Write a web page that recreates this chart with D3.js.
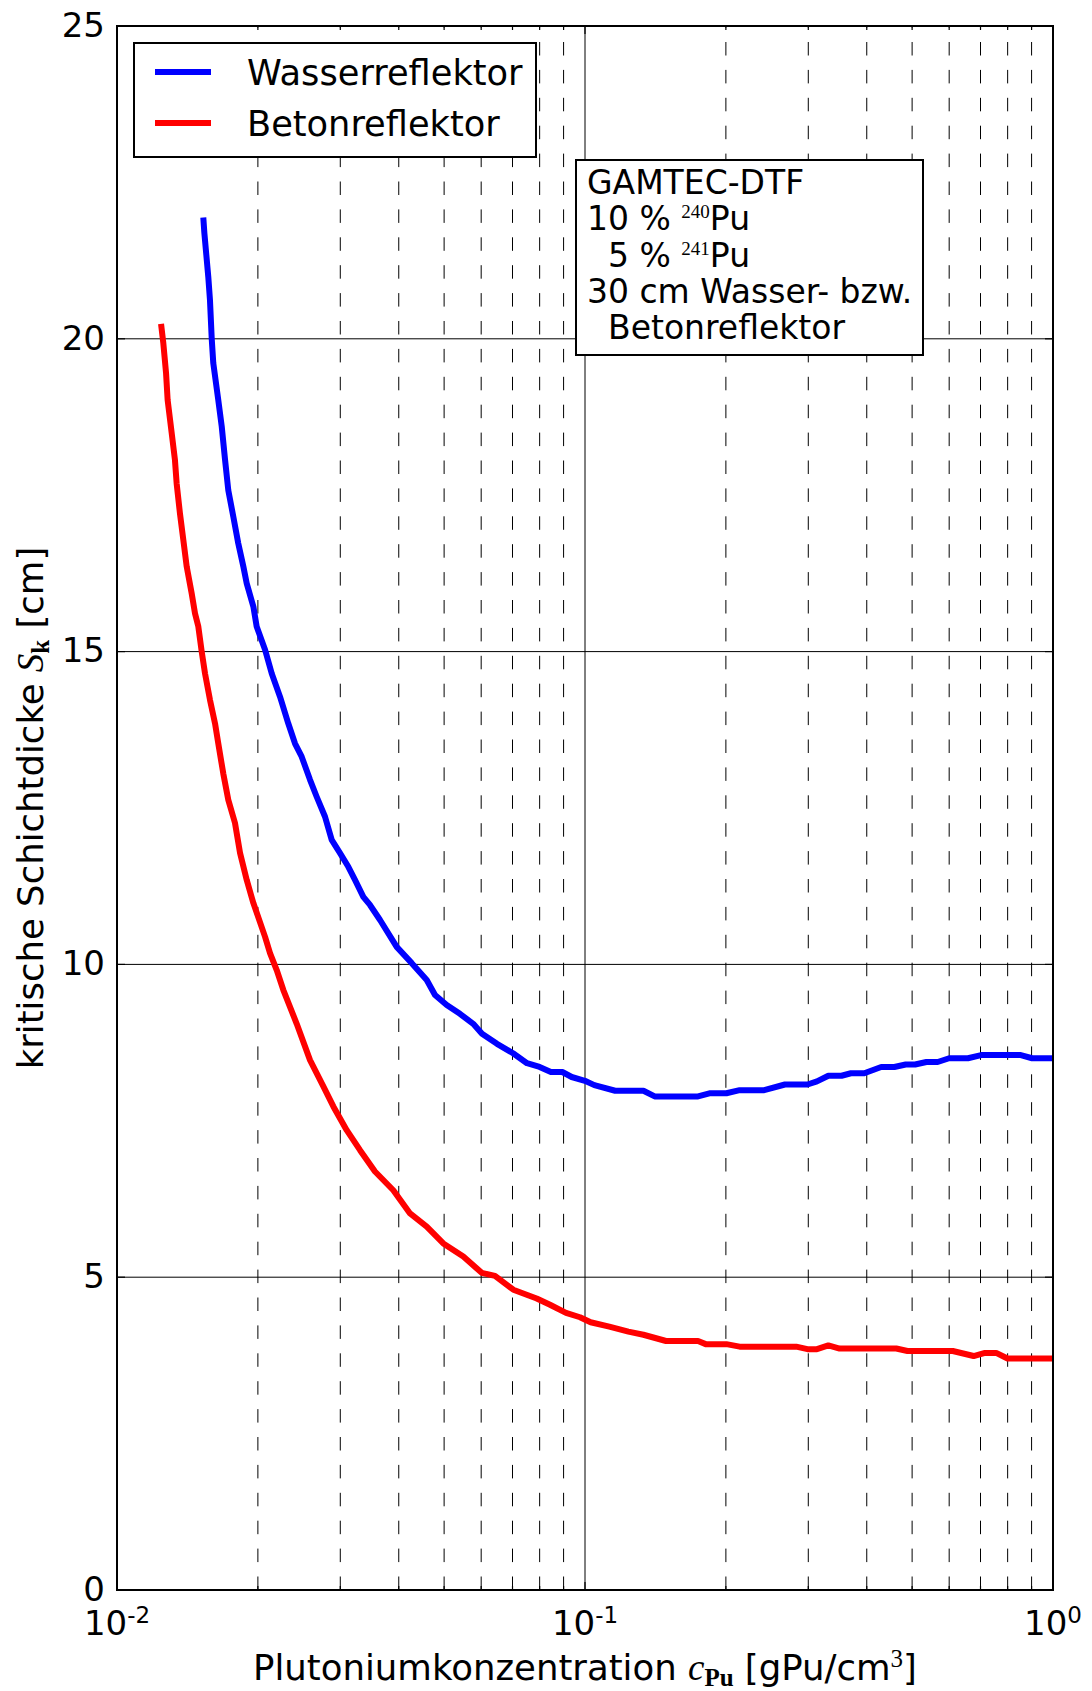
<!DOCTYPE html>
<html><head><meta charset="utf-8">
<script src="https://cdn.jsdelivr.net/npm/d3@7"></script>
<style>
body{margin:0;background:#fff}
svg{display:block}
text{font-family:"DejaVu Sans",sans-serif;fill:#000}
</style>
</head><body>
<svg id="chart" width="1092" height="1691"></svg>
<script>
// ---- data ----
const concWater = [0.01529,0.01537,0.01567,0.0158,0.01594,0.01606,0.01646,0.01674,0.01702,0.01729,0.01772,0.01816,0.01862,0.01893,0.01956,0.01988,0.02072,0.02141,0.0223,0.02323,0.02401,0.02481,0.02585,0.02671,0.02783,0.02876,0.02996,0.03121,0.03225,0.0336,0.03472,0.03648,0.03959,0.04264,0.0459,0.04781,0.05064,0.05405,0.0577,0.06025,0.06486,0.07019,0.07517,0.07998,0.08455,0.08944,0.09367,0.09995,0.1047,0.116,0.1333,0.1409,0.1744,0.1844,0.2005,0.214,0.2415,0.2674,0.2988,0.3131,0.3311,0.3533,0.37,0.3951,0.4294,0.4581,0.4845,0.5074,0.5364,0.5671,0.5998,0.658,0.7023,0.8536,0.9023,1.0];
const thickWater = [21.94,21.69,20.99,20.62,19.99,19.61,19.02,18.60,18.06,17.58,17.16,16.73,16.36,16.09,15.72,15.40,15.03,14.65,14.28,13.85,13.53,13.32,12.95,12.68,12.36,11.99,11.78,11.56,11.35,11.08,10.95,10.71,10.28,10.02,9.75,9.51,9.35,9.21,9.05,8.89,8.73,8.58,8.42,8.36,8.28,8.28,8.20,8.14,8.07,7.98,7.98,7.89,7.89,7.94,7.94,7.99,7.99,8.08,8.08,8.13,8.22,8.22,8.26,8.26,8.36,8.36,8.40,8.40,8.44,8.44,8.50,8.50,8.55,8.55,8.50,8.50];
const concBeton = [0.01242,0.01256,0.01273,0.01283,0.01309,0.0133,0.01341,0.01363,0.01386,0.01409,0.01444,0.01468,0.01492,0.01517,0.01542,0.0158,0.0162,0.01646,0.01687,0.01729,0.01787,0.01832,0.01893,0.01956,0.02072,0.02123,0.02194,0.02267,0.02421,0.02585,0.0276,0.02899,0.03096,0.03306,0.03558,0.03894,0.04228,0.0459,0.0498,0.05495,0.06016,0.06422,0.07029,0.07505,0.07885,0.08418,0.09109,0.09757,0.1028,0.1127,0.1238,0.1333,0.149,0.1744,0.1811,0.2005,0.214,0.2827,0.2988,0.3131,0.3311,0.3499,0.4624,0.4888,0.6107,0.6767,0.7155,0.7561,0.7994,1.0];
const thickBeton = [20.24,19.93,19.45,19.02,18.49,18.06,17.69,17.21,16.78,16.36,15.93,15.61,15.40,15.00,14.65,14.23,13.85,13.53,13.05,12.63,12.26,11.78,11.35,10.98,10.44,10.18,9.91,9.59,9.05,8.47,8.05,7.73,7.35,7.03,6.69,6.39,6.02,5.81,5.54,5.33,5.07,5.02,4.80,4.72,4.66,4.56,4.43,4.36,4.28,4.21,4.13,4.08,3.98,3.98,3.93,3.93,3.89,3.89,3.85,3.85,3.91,3.86,3.86,3.82,3.82,3.74,3.79,3.79,3.70,3.70];
const yTicks = [0,5,10,15,20,25];
const yGrid = [5,10,15,20];
const xMajor = [0.01,0.1,1];
const xMajorExp = ["-2","-1","0"];
const xMinor = [0.02,0.03,0.04,0.05,0.06,0.07,0.08,0.09,0.2,0.3,0.4,0.5,0.6,0.7,0.8,0.9];
const seriesNames = ["Wasserreflektor","Betonreflektor"];
const seriesColors = ["#0000ff","#ff0000"];
const infoLines = ["GAMTEC-DTF","10 % ","5 % ","30 cm Wasser- bzw.","Betonreflektor"];

// ---- layout ----
const L = 117, R = 1053, T = 26, B = 1590;
const svg = d3.select("#chart");
const x = d3.scaleLog().domain([0.01, 1]).range([L, R]);
const y = d3.scaleLinear().domain([0, 25]).range([B, T]);

svg.append("defs").append("clipPath").attr("id","clip")
  .append("rect").attr("x",L).attr("y",T).attr("width",R-L).attr("height",B-T);

// grid: minor dashed verticals
svg.append("g").selectAll("line").data(xMinor).join("line")
  .attr("x1",d=>x(d)).attr("x2",d=>x(d)).attr("y1",B).attr("y2",T)
  .attr("stroke","#000").attr("stroke-width",1)
  .attr("stroke-dasharray","13.5,14.4");
// major verticals
svg.append("g").selectAll("line").data(xMajor).join("line")
  .attr("x1",d=>x(d)).attr("x2",d=>x(d)).attr("y1",B).attr("y2",T)
  .attr("stroke","#000").attr("stroke-width",1);
// horizontal grid
svg.append("g").selectAll("line").data(yGrid).join("line")
  .attr("x1",L).attr("x2",R).attr("y1",d=>y(d)).attr("y2",d=>y(d))
  .attr("stroke","#000").attr("stroke-width",1);

// ticks (inward)
const tk = svg.append("g").attr("stroke","#000").attr("stroke-width",1.2);
xMajor.forEach(v=>{
  tk.append("line").attr("x1",x(v)).attr("x2",x(v)).attr("y1",B).attr("y2",B-8);
  tk.append("line").attr("x1",x(v)).attr("x2",x(v)).attr("y1",T).attr("y2",T+8);
});
xMinor.forEach(v=>{
  tk.append("line").attr("x1",x(v)).attr("x2",x(v)).attr("y1",B).attr("y2",B-4);
  tk.append("line").attr("x1",x(v)).attr("x2",x(v)).attr("y1",T).attr("y2",T+4);
});
yTicks.forEach(v=>{
  tk.append("line").attr("x1",L).attr("x2",L+8).attr("y1",y(v)).attr("y2",y(v));
  tk.append("line").attr("x1",R).attr("x2",R-8).attr("y1",y(v)).attr("y2",y(v));
});

// curves
const line = d3.line().x(d=>x(d[0])).y(d=>y(d[1]));
const series = [
  d3.zip(concWater, thickWater),
  d3.zip(concBeton, thickBeton)
];
svg.append("g").attr("clip-path","url(#clip)").selectAll("path").data(series).join("path")
  .attr("d", line).attr("fill","none")
  .attr("stroke",(d,i)=>seriesColors[i]).attr("stroke-width",6)
  .attr("stroke-linejoin","round");

// frame
svg.append("rect").attr("x",L).attr("y",T).attr("width",R-L).attr("height",B-T)
  .attr("fill","none").attr("stroke","#000").attr("stroke-width",2);

// y tick labels
svg.append("g").selectAll("text").data(yTicks).join("text")
  .attr("x",L-12).attr("y",d=>y(d)).attr("dy","0.32em")
  .attr("text-anchor","end").attr("font-size",34).text(d=>d);

// x tick labels
xMajor.forEach((v,i)=>{
  const t = svg.append("text").attr("x",x(v)).attr("y",1635)
    .attr("text-anchor","middle").attr("font-size",34);
  t.append("tspan").text("10");
  t.append("tspan").attr("font-size",23).attr("dy",-12).text(xMajorExp[i]);
});

// x axis label
const xl = svg.append("text").attr("x",(L+R)/2).attr("y",1680)
  .attr("text-anchor","middle").attr("font-size",35.5);
xl.append("tspan").text("Plutoniumkonzentration ");
xl.append("tspan").attr("font-family","Liberation Serif").attr("font-style","italic").attr("font-size",37).text("c");
xl.append("tspan").attr("font-family","Liberation Serif").attr("font-weight","bold").attr("font-size",25).attr("dy",6).text("Pu");
xl.append("tspan").attr("dy",-6).text(" [gPu/cm");
xl.append("tspan").attr("font-family","Liberation Serif").attr("font-size",25).attr("dy",-13).text("3");
xl.append("tspan").attr("dy",13).text("]");

// y axis label
const yl = svg.append("text").attr("transform",`translate(43,${(T+B)/2}) rotate(-90)`)
  .attr("text-anchor","middle").attr("font-size",35.5);
yl.append("tspan").text("kritische Schichtdicke ");
yl.append("tspan").attr("font-family","Liberation Serif").attr("font-style","italic").attr("font-size",37).text("S");
yl.append("tspan").attr("font-family","Liberation Serif").attr("font-weight","bold").attr("font-size",25).attr("dy",6).text("k");
yl.append("tspan").attr("dy",-6).text(" [cm]");

// legend
const lg = svg.append("g");
lg.append("rect").attr("x",134).attr("y",43).attr("width",402).attr("height",114)
  .attr("fill","#fff").attr("stroke","#000").attr("stroke-width",2);
seriesNames.forEach((n,i)=>{
  const yy = 72 + i*51;
  lg.append("line").attr("x1",155).attr("x2",211).attr("y1",yy).attr("y2",yy)
    .attr("stroke",seriesColors[i]).attr("stroke-width",6);
  lg.append("text").attr("x",247).attr("y",yy+13).attr("font-size",35.2).text(n);
});

// info box
const ib = svg.append("g");
ib.append("rect").attr("x",576).attr("y",160).attr("width",347).attr("height",195)
  .attr("fill","#fff").attr("stroke","#000").attr("stroke-width",2);
const fs = 33;
ib.append("text").attr("x",587).attr("y",194).attr("font-size",fs).text(infoLines[0]);
const l2 = ib.append("text").attr("x",587).attr("y",230).attr("font-size",fs);
l2.append("tspan").text(infoLines[1]);
l2.append("tspan").attr("font-family","Liberation Serif").attr("font-size",19).attr("dy",-12).text("240");
l2.append("tspan").attr("dy",12).text("Pu");
const l3 = ib.append("text").attr("x",608).attr("y",267).attr("font-size",fs);
l3.append("tspan").text(infoLines[2]);
l3.append("tspan").attr("font-family","Liberation Serif").attr("font-size",19).attr("dy",-12).text("241");
l3.append("tspan").attr("dy",12).text("Pu");
ib.append("text").attr("x",587).attr("y",303).attr("font-size",fs).text(infoLines[3]);
ib.append("text").attr("x",608).attr("y",339).attr("font-size",fs).text(infoLines[4]);
</script>
</body></html>
